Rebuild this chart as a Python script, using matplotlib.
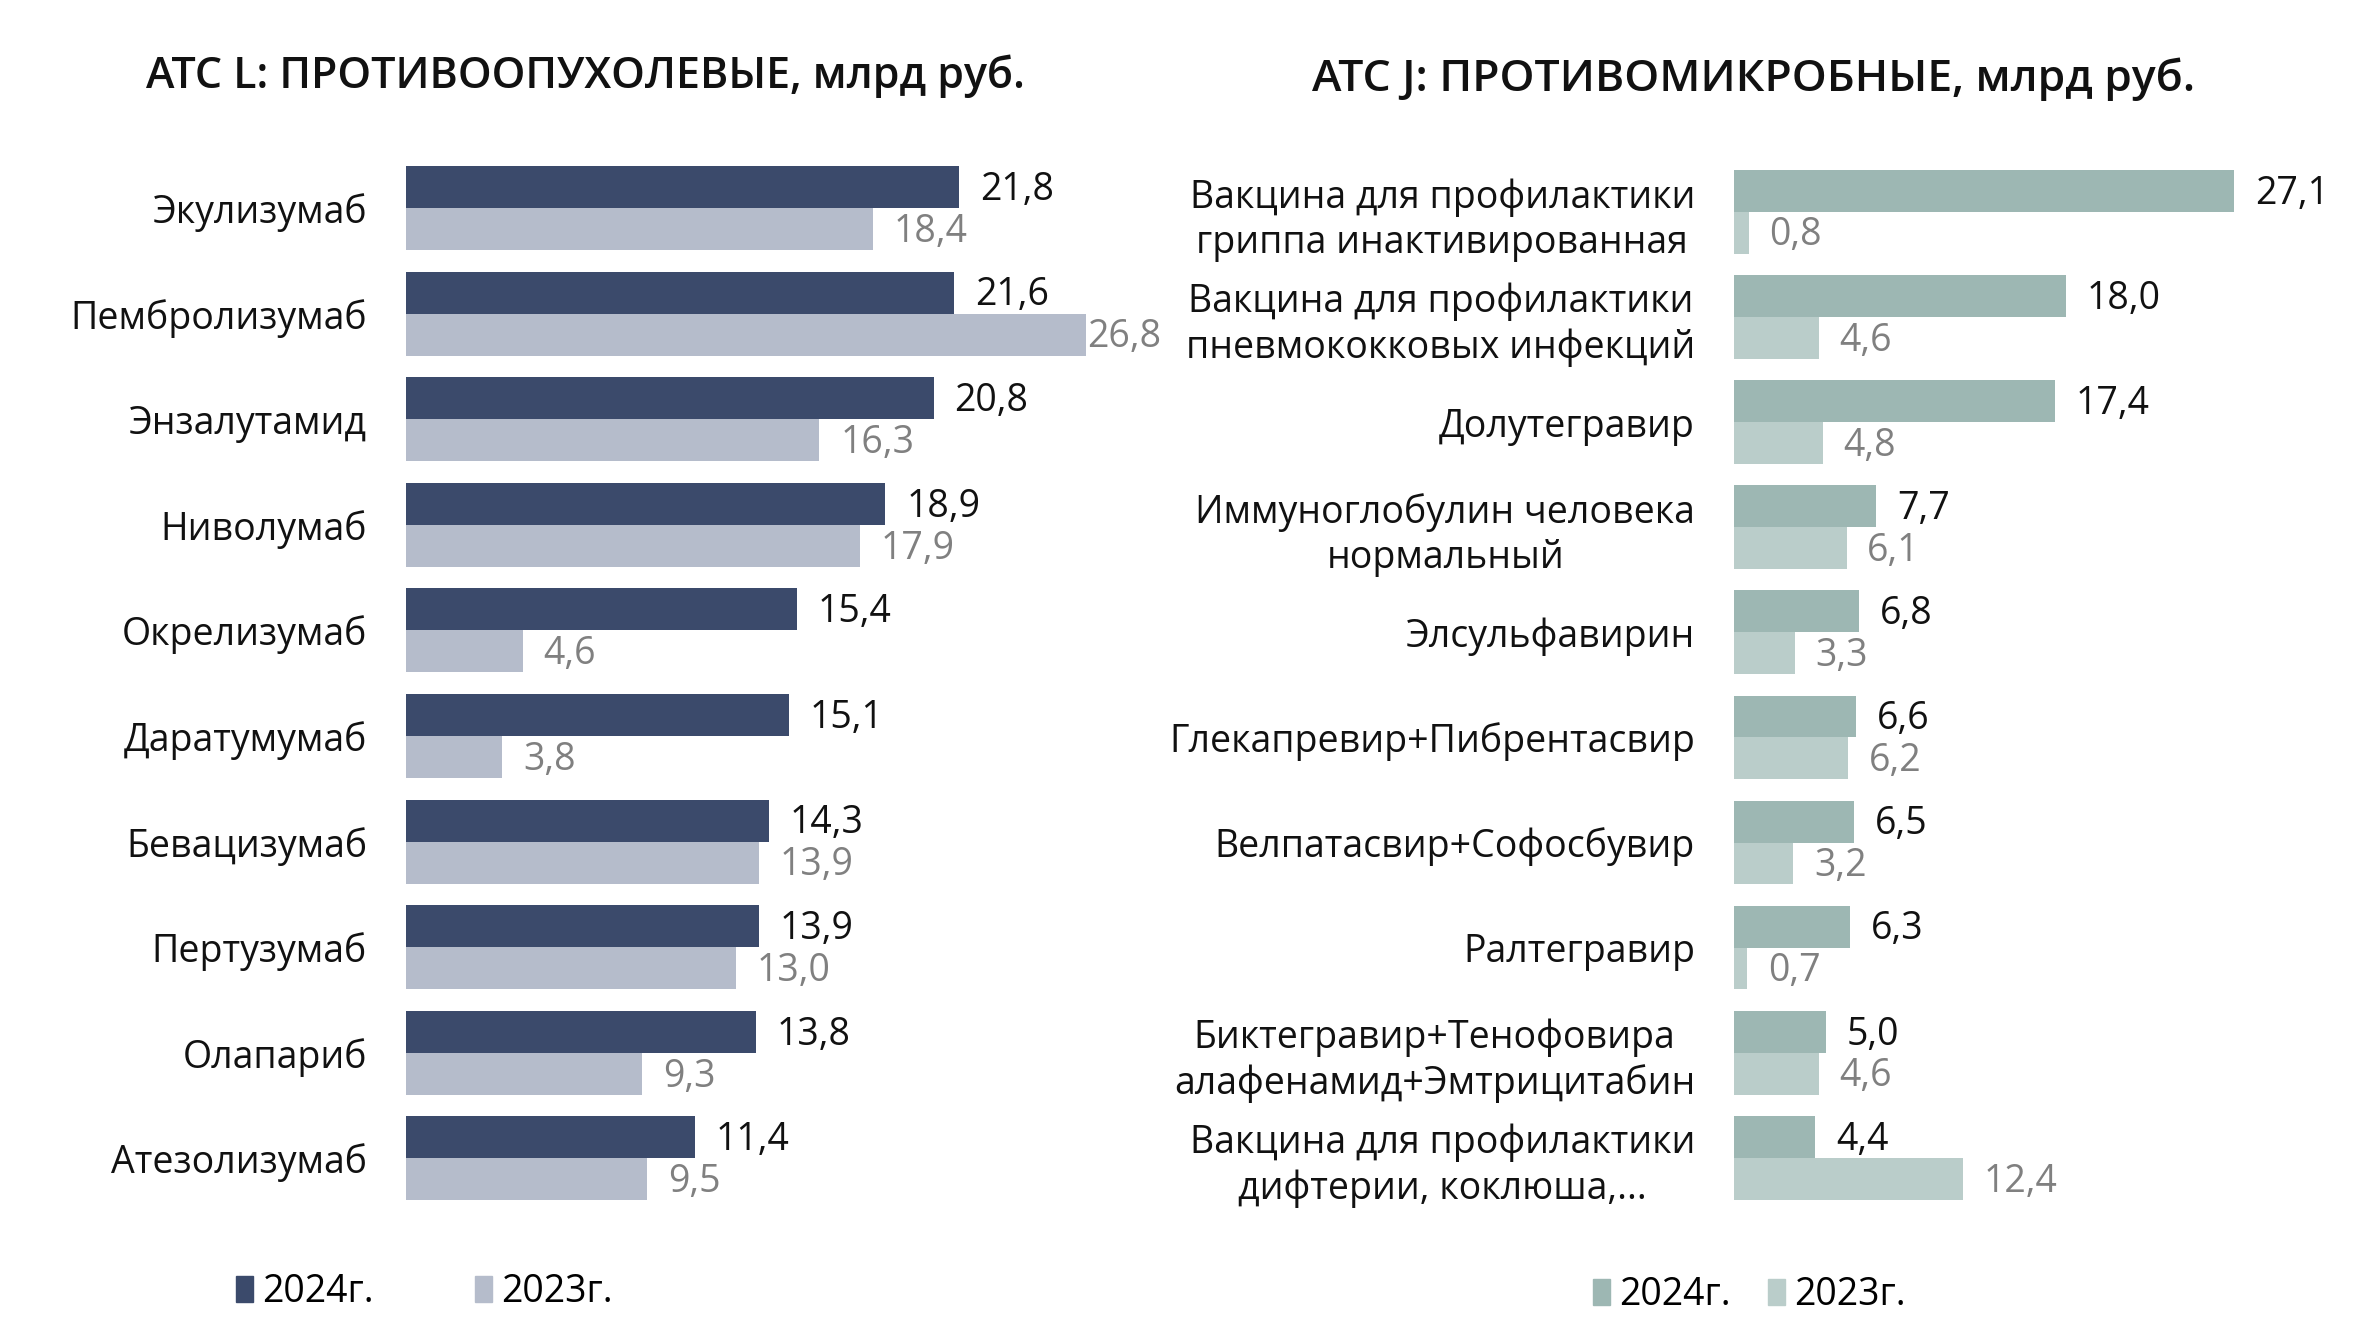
import matplotlib.pyplot as plt
from matplotlib.patches import Patch

plt.rcParams['font.family'] = ['Open Sans', 'DejaVu Sans']

# left panel: ATC L
onco_names = ['Экулизумаб', 'Пембролизумаб', 'Энзалутамид', 'Ниволумаб', 'Окрелизумаб',
              'Даратумумаб', 'Бевацизумаб', 'Пертузумаб', 'Олапариб', 'Атезолизумаб']
onco_2024 = [21.8, 21.6, 20.8, 18.9, 15.4, 15.1, 14.3, 13.9, 13.8, 11.4]
onco_2023 = [18.4, 26.8, 16.3, 17.9, 4.6, 3.8, 13.9, 13.0, 9.3, 9.5]

# right panel: ATC J
micro_names = ['Вакцина для профилактики\nгриппа инактивированная',
               'Вакцина для профилактики\nпневмококковых инфекций',
               'Долутегравир',
               'Иммуноглобулин человека\nнормальный',
               'Элсульфавирин',
               'Глекапревир+Пибрентасвир',
               'Велпатасвир+Софосбувир',
               'Ралтегравир',
               'Биктегравир+Тенофовира\nалафенамид+Эмтрицитабин',
               'Вакцина для профилактики\nдифтерии, коклюша,...']
micro_2024 = [27.1, 18.0, 17.4, 7.7, 6.8, 6.6, 6.5, 6.3, 5.0, 4.4]
micro_2023 = [0.8, 4.6, 4.8, 6.1, 3.3, 6.2, 3.2, 0.7, 4.6, 12.4]

years = ['2024г.', '2023г.']

FS = 27
BAR_H = 0.398


def fmt(v):
    return f'{v:.1f}'.replace('.', ',')


def draw_panel(ax, names, v24, v23, c24, c23):
    ys = range(len(names))
    y24 = [y - BAR_H / 2 for y in ys]
    y23 = [y + BAR_H / 2 for y in ys]
    ax.barh(y24, v24, height=BAR_H, color=c24)
    ax.barh(y23, v23, height=BAR_H, color=c23)
    top = max(v24 + v23)
    for y, v in zip(y24, v24):
        ax.annotate(fmt(v), (v, y), xytext=(15, -2), textcoords='offset points',
                    va='center', ha='left', fontsize=FS, color='#111111')
    for y, v in zip(y23, v23):
        # the longest bar keeps its label tight against the bar end
        pad = 1 if v == top else 15
        ax.annotate(fmt(v), (v, y), xytext=(pad, -2), textcoords='offset points',
                    va='center', ha='left', fontsize=FS, color='#808080')
    ax.set_xlim(0, 30)
    ax.set_ylim(len(names) - 0.4, -0.6)
    ax.set_yticks(list(ys))
    ax.set_yticklabels(names, fontsize=FS, color='#111111', multialignment='center',
                       linespacing=1.25)
    ax.tick_params(axis='y', length=0, pad=28)
    ax.set_xticks([])
    for s in ax.spines.values():
        s.set_visible(False)


fig = plt.figure(figsize=(23.74, 13.42), dpi=100)

ax1 = fig.add_axes([0.1710, 0.0896, 0.3206, 0.8026])
draw_panel(ax1, onco_names, onco_2024, onco_2023, '#3B4A6B', '#B5BCCB')

ax2 = fig.add_axes([0.7304, 0.0902, 0.2332, 0.7990])
draw_panel(ax2, micro_names, micro_2024, micro_2023, '#9DB7B3', '#BACDCA')

fig.text(0.2468, 0.9433, 'ATC L: ПРОТИВООПУХОЛЕВЫЕ, млрд руб.', ha='center', va='center',
         fontsize=31, fontweight='semibold', color='#111111')
fig.text(0.7385, 0.941, 'ATC J: ПРОТИВОМИКРОБНЫЕ, млрд руб.', ha='center', va='center',
         fontsize=32, fontweight='semibold', color='#111111')

fig.legend(handles=[Patch(color='#3B4A6B'), Patch(color='#B5BCCB')], labels=years,
           loc='center left', bbox_to_anchor=(0.0994, 0.0369), ncol=2, frameon=False,
           fontsize=FS, handlelength=0.45, handleheight=0.7, handletextpad=0.25,
           columnspacing=2.7, borderpad=0, borderaxespad=0)
fig.legend(handles=[Patch(color='#9DB7B3'), Patch(color='#BACDCA')], labels=years,
           loc='center left', bbox_to_anchor=(0.671, 0.0347), ncol=2, frameon=False,
           fontsize=FS, handlelength=0.45, handleheight=0.7, handletextpad=0.25,
           columnspacing=1.0, borderpad=0, borderaxespad=0)

fig.savefig('out.png', dpi=100)
